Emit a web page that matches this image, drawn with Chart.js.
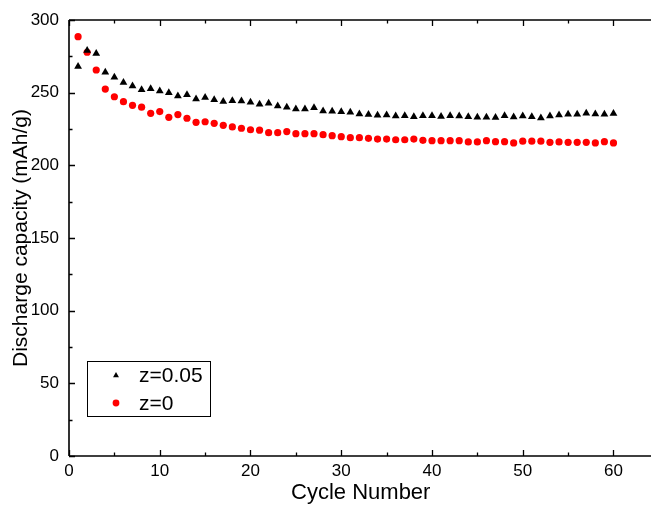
<!DOCTYPE html>
<html>
<head>
<meta charset="utf-8">
<script src="https://cdn.jsdelivr.net/npm/chart.js@4/dist/chart.umd.min.js"></script>
<style>
html,body{margin:0;padding:0;background:#fff;overflow:hidden;}
#wrap{width:651px;height:506px;position:relative;overflow:hidden;}
</style>
</head>
<body>
<div id="wrap"><canvas id="c" width="657" height="506"></canvas></div>
<script>
const cycles = Array.from({length:60},(_,i)=>i+1);
const z005 = [268,279,277,264,260.6,257,254.6,252,252.7,251.2,
  250,247.7,248.6,245.6,246.6,245.2,244,244.5,244.3,243.4,
  242,242.7,240.8,239.9,238.8,238.8,239.7,237.4,237.2,236.9,
  236.5,235.3,234.9,234.4,234.6,234,234.2,233.5,234.2,234.2,
  233.6,234.2,234,233.5,233,233,232.9,234.2,233.3,234,
  233.5,232.6,234,234.6,235.1,235.1,235.8,235.3,235.1,235.6];
const z0 = [288.5,277.8,265.6,252.5,247.2,243.8,241.3,240,235.8,237,
  233,234.9,232.4,229.6,230,228.9,227.5,226.4,225.5,224.5,
  224.2,222.5,222.5,223.2,221.8,221.8,221.8,221.1,220.4,219.7,
  219,219,218.6,218.1,218.1,217.6,217.6,218.1,217.2,217,
  217,217,217,216.1,216.1,217,216.3,216.3,215.4,216.6,
  216.6,216.6,215.8,216.1,215.8,215.8,215.8,215.4,216.3,215.4];
const xTicks = [0,10,20,30,40,50,60];
const yTicks = [0,50,100,150,200,250,300];
const seriesLabels = ['z=0.05','z=0'];

const FONT = "'Liberation Sans', Arial, sans-serif";

const framePlugin = {
  id:'frame',
  afterDraw(chart){
    const ctx = chart.ctx, a = chart.chartArea;
    const xs = chart.scales.x, ys = chart.scales.y;
    ctx.save();
    ctx.strokeStyle = '#000';
    ctx.lineWidth = 1.6;
    ctx.beginPath();
    ctx.moveTo(a.left, a.top); ctx.lineTo(a.right, a.top);
    ctx.moveTo(a.left, a.top); ctx.lineTo(a.left, a.bottom);
    ctx.moveTo(a.left, a.bottom); ctx.lineTo(a.right, a.bottom);
    ctx.stroke();
    ctx.lineWidth = 1.3;
    ctx.beginPath();
    for (let v = 0; v <= 60; v += 5) {
      const px = Math.round(xs.getPixelForValue(v)) + 0.5;
      const len = (v % 10 === 0) ? 6 : 3.5;
      ctx.moveTo(px, a.bottom); ctx.lineTo(px, a.bottom - len);
      ctx.moveTo(px, a.top); ctx.lineTo(px, a.top + len);
    }
    for (let v = 0; v <= 300; v += 25) {
      const py = Math.round(ys.getPixelForValue(v)) + 0.5;
      const len = (v % 50 === 0) ? 6 : 3.5;
      ctx.moveTo(a.left, py); ctx.lineTo(a.left + len, py);
    }
    ctx.stroke();
    // legend box
    const lx = 87, ly = 361, lw = 123, lh = 55;
    ctx.lineWidth = 1;
    ctx.strokeRect(lx + 0.5, ly + 0.5, lw, lh);
    ctx.font = "21px " + FONT;
    ctx.textBaseline = 'middle';
    ctx.fillStyle = '#000';
    const ds = chart.data.datasets;
    const rows = [375.5, 403];
    ds.forEach((d, i) => {
      const y = rows[i];
      ctx.save();
      ctx.fillStyle = d.pointBackgroundColor;
      ctx.strokeStyle = d.pointBackgroundColor;
      Chart.helpers.drawPoint(ctx, {pointStyle: d.pointStyle, radius: 3.4, borderWidth: 0}, 116, y);
      ctx.restore();
      ctx.fillStyle = '#000';
      ctx.fillText(d.label, 139, y + 1);
    });
    ctx.restore();
  }
};

new Chart(document.getElementById('c'), {
  type: 'scatter',
  data: {
    datasets: [
      {label: seriesLabels[0], data: cycles.map((c,i)=>({x:c, y:z005[i]})),
       pointStyle:'triangle', pointRadius:4.5, pointBackgroundColor:'#000', pointBorderColor:'#000', pointBorderWidth:0},
      {label: seriesLabels[1], data: cycles.map((c,i)=>({x:c, y:z0[i]})),
       pointStyle:'circle', pointRadius:3.6, pointBackgroundColor:'#ff0000', pointBorderColor:'#ff0000', pointBorderWidth:0}
    ]
  },
  options: {
    responsive:false,
    animation:false,
    events:[],
    layout:{padding:{top:20, right:0, left:0, bottom:0}},
    plugins:{legend:{display:false}, tooltip:{enabled:false}},
    scales:{
      x:{
        type:'linear', min:0, max:64.3,
        afterBuildTicks(s){ s.ticks = xTicks.map(v=>({value:v})); },
        afterFit(s){ s.height = 50; s.paddingLeft = 0; s.paddingRight = 0; },
        grid:{display:false, drawTicks:false},
        border:{display:false},
        ticks:{color:'#000', font:{family:FONT, size:17}, padding:5, maxRotation:0},
        title:{display:true, text:'Cycle Number', color:'#000', font:{family:FONT, size:22}, padding:{top:0,bottom:0}}
      },
      y:{
        type:'linear', min:0, max:300,
        afterBuildTicks(s){ s.ticks = yTicks.map(v=>({value:v})); },
        afterFit(s){ s.width = 69; s.paddingTop = 0; s.paddingBottom = 0; },
        grid:{display:false, drawTicks:false},
        border:{display:false},
        ticks:{color:'#000', font:{family:FONT, size:17}, padding:10},
        title:{display:true, text:'Discharge capacity (mAh/g)', color:'#000', font:{family:FONT, size:21}, padding:{top:9,bottom:0}}
      }
    }
  },
  plugins:[framePlugin]
});
</script>
</body>
</html>
